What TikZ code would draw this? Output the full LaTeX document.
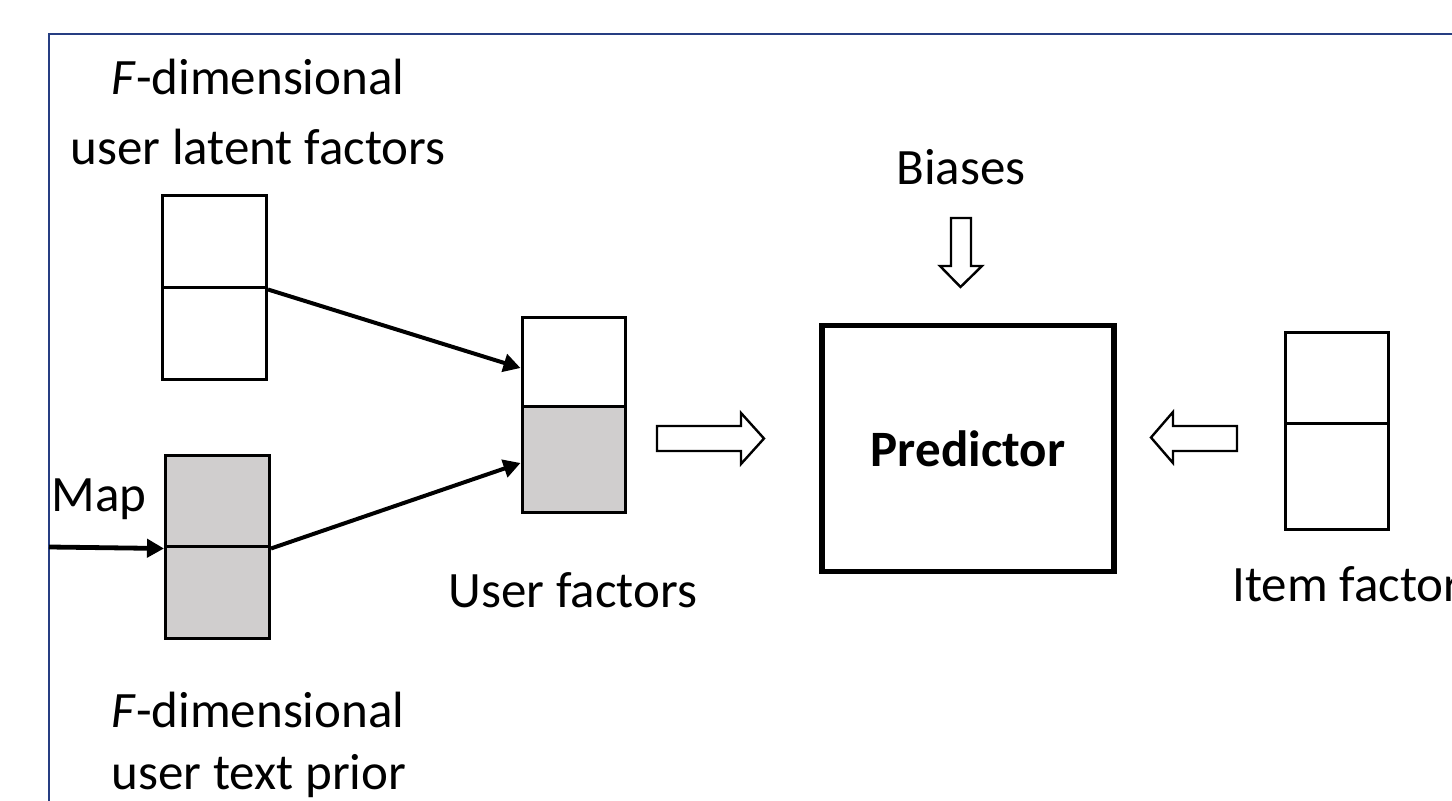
\documentclass[tikz,border=0pt]{standalone}
\usepackage{fontspec}
\setmainfont{Carlito}
\usetikzlibrary{arrows.meta}
\definecolor{frameblue}{RGB}{38,62,130}
\definecolor{cellgray}{RGB}{208,206,206}
\tikzset{
  lbl/.style={font=\fontsize{25.5pt}{30pt}\selectfont, inner sep=0pt, anchor=base},
  cell/.style={draw=black, line width=1.5pt, minimum width=52pt, inner sep=0pt},
  link/.style={line width=2pt, -{Triangle[length=8.5pt,width=9pt]}},
  hollow/.style={draw=black, fill=white, line width=1.2pt, line join=miter},
}
\begin{document}
\begin{tikzpicture}[x=0.5pt,y=-0.5pt]
  \useasboundingbox (0,0) rectangle (1452,801);
  \clip (0,0) rectangle (1452,801);
  % frame
  \draw[frameblue, line width=1pt] (49,1600) -- (49,34) -- (1600,34);

  % latent factors column
  \node[cell, minimum height=46pt] (la) at (214.5,242) {};
  \node[cell, minimum height=46pt] (lb) at (214.5,334) {};
  % text prior column (grey)
  \node[cell, fill=cellgray, minimum height=45.5pt] (pa) at (217.5,501.5) {};
  \node[cell, fill=cellgray, minimum height=46pt] (pb) at (217.5,593) {};
  % user factors column
  \node[cell, minimum width=51.5pt, minimum height=44.5pt] (ua) at (573.5,362.5) {};
  \node[cell, fill=cellgray, minimum width=51.5pt, minimum height=53pt] (ub) at (573.5,460) {};
  % item factors column
  \node[cell, minimum width=51.5pt, minimum height=45.5pt] (ia) at (1336.5,378.5) {};
  \node[cell, minimum width=51.5pt, minimum height=53pt] (ib) at (1336.5,477) {};

  % predictor
  \node[draw=black, line width=2.6pt, minimum width=146pt, minimum height=123pt, inner sep=0pt] (pred) at (968,448.5) {};
  \node[lbl, font=\fontsize{25.5pt}{30pt}\selectfont\bfseries] (predt) at (968,467) {Predictor};

  % labels
  \node[lbl] (t1) at (258,95) {\textit{F}-dimensional};
  \node[lbl] (t2) at (258,165) {user latent factors};
  \node[lbl] (b1) at (258,728) {\textit{F}-dimensional};
  \node[lbl] (b2) at (259,790) {user text prior};
  \node[lbl] (map) at (99,512) {Map};
  \node[lbl] (uf) at (573,608) {User factors};
  \node[lbl] (bias) at (961,185) {Biases};
  \node[lbl, anchor=base west] (itf) at (1232,602) {Item factors};

  % connectors
  \coordinate (mapin) at (49,547);
  \draw[link, line width=2.4pt] (mapin) -- (pa.south west);
  \draw[link] (la.south east) -- (ua.west |- 0,368);
  \draw[link] (pa.south east) -- (ub.west |- 0,463);

  % hollow block arrows
  \draw[hollow] (657,426) -- (741,426) -- (741,413) -- (764,438.5) -- (741,464) -- (741,451) -- (657,451) -- cycle;
  \draw[hollow] (1237,426) -- (1173,426) -- (1173,412) -- (1151,437.5) -- (1173,463) -- (1173,451) -- (1237,451) -- cycle;
  \draw[hollow] (951,218) -- (971,218) -- (971,266) -- (982,266) -- (960.5,287) -- (940,266) -- (951,266) -- cycle;
\end{tikzpicture}
\end{document}
